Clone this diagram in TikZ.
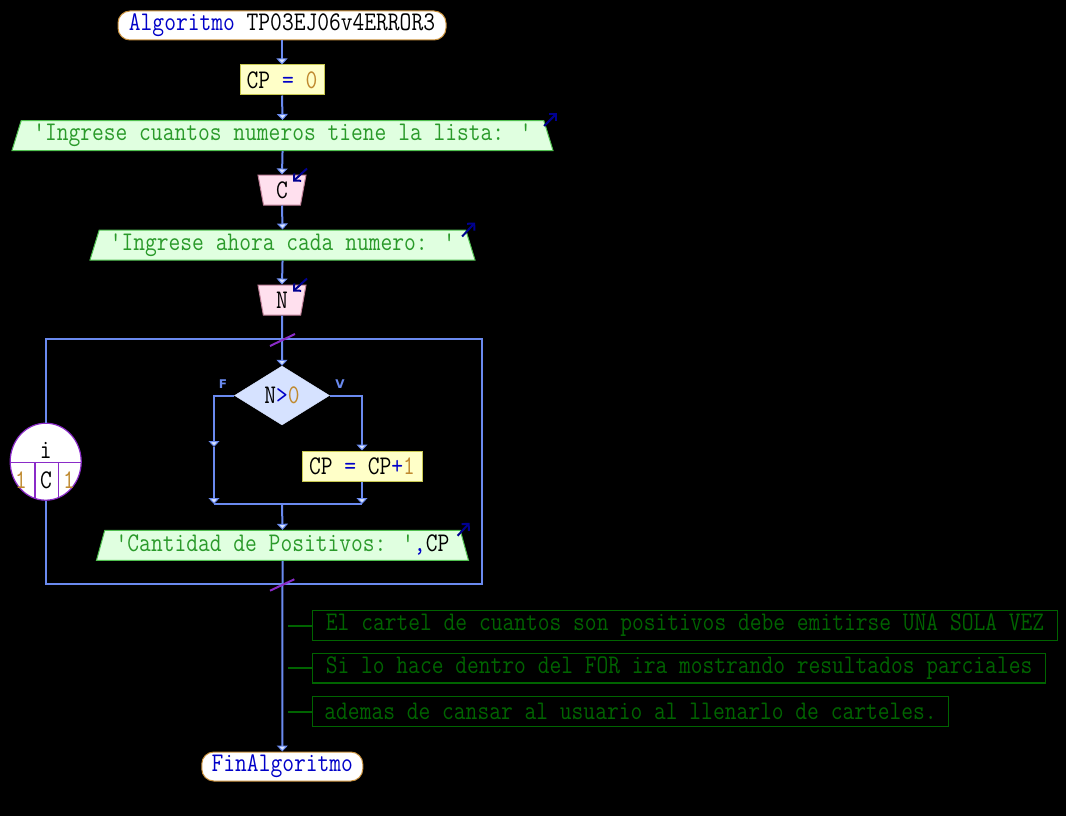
\documentclass[tikz,border=0pt]{standalone}
\usepackage{fontspec}
\newfontfamily\lf{DejaVu Sans}
\newfontfamily\cf[FakeStretch=0.85]{Latin Modern Mono}
\usetikzlibrary{shapes.geometric,arrows.meta}
\definecolor{ln}{HTML}{6A8AEF}
\definecolor{kw}{HTML}{0000C8}
\definecolor{num}{HTML}{C08A30}
\definecolor{strg}{HTML}{2A9A2A}
\definecolor{cmt}{HTML}{006400}
\definecolor{termb}{HTML}{C8903C}
\definecolor{asgf}{HTML}{FFFFC8}
\definecolor{asgb}{HTML}{C8C850}
\definecolor{outf}{HTML}{E0FFE0}
\definecolor{outb}{HTML}{50C050}
\definecolor{inf}{HTML}{FFE0EE}
\definecolor{inb}{HTML}{C08098}
\definecolor{dmf}{HTML}{D6E2FF}
\definecolor{loopc}{HTML}{8A2BC8}
\definecolor{ioarr}{HTML}{000090}
\definecolor{arrf}{HTML}{D8E4FF}
\tikzset{
  term/.style={draw=termb, fill=white, rounded corners=12pt, minimum height=29pt, inner sep=0pt, line width=1pt},
  asg/.style={draw=asgb, fill=asgf, minimum height=30pt, inner sep=0pt, line width=1pt},
  outp/.style={trapezium, trapezium left angle=68, trapezium right angle=68, trapezium stretches body, draw=outb, fill=outf, minimum height=30pt, inner sep=0pt, line width=1pt},
  inp/.style={trapezium, trapezium left angle=108, trapezium right angle=108, trapezium stretches body, draw=inb, fill=inf, minimum height=30pt, minimum width=48pt, inner sep=0pt, line width=1pt},
  dia/.style={diamond, draw=dmf, fill=dmf, minimum width=95pt, minimum height=59pt, inner sep=0pt},
  conn/.style={draw=ln, line width=2pt, -{Triangle[width=11pt,length=6pt,fill=arrf,line width=1pt]}},
  plain/.style={draw=ln, line width=2pt},
  ioar/.style={draw=ioarr, line width=2pt, -{Straight Barb[length=5pt,width=10pt]}},
  slash/.style={draw=loopc, line width=2pt},
  lbl/.style={text=ln, font=\lf\bfseries\fontsize{12}{13}\selectfont, inner sep=0pt},
  cmtbox/.style={draw=cmt, text=cmt, anchor=west, minimum height=29.5pt, inner xsep=4pt, inner ysep=0pt, line width=1.2pt},
  cmtline/.style={draw=cmt, line width=2pt},
}
\begin{document}
\begin{tikzpicture}[x=1pt,y=-1pt,font=\cf\fontsize{26.9}{30}\selectfont]
\useasboundingbox (0,0) rectangle (1066,816);
\fill[black] (0,0) rectangle (1066,816);
% nodes
\node[term, minimum width=328pt] (start) at (282,25.5) {{\color{kw}Algoritmo} TP03EJ06v4ERROR3};
\node[asg, minimum width=84pt] (a1) at (282,80) {CP {\color{kw}=} {\color{num}0}};
\node[outp, minimum width=541pt] (o1) at (282.5,135.5) {\color{strg}'Ingrese cuantos numeros tiene la lista: '};
\node[inp] (i1) at (282,190) {C};
\node[outp, minimum width=385pt] (o2) at (282.5,245) {\color{strg}'Ingrese ahora cada numero: '};
\node[inp] (i2) at (282,300) {N};
\node[dia] (d1) at (282,395.5) {N{\color{kw}>}{\color{num}0}};
\node[asg, minimum width=120pt] (a2) at (362,466) {CP {\color{kw}=} CP{\color{kw}+}{\color{num}1}};
\node[outp, minimum width=372pt] (o3) at (282.5,545.3) {{\color{strg}'Cantidad de Positivos: '}{\color{kw},}CP};
\node[term, minimum width=161pt] (end) at (282.3,766.5) {\color{kw}FinAlgoritmo};
% loop
\node[ellipse, draw=loopc, fill=white, line width=1.2pt, minimum width=71pt, minimum height=77pt, inner sep=0pt] (loop) at (45.7,461.7) {};
\begin{scope}
  \clip (loop.center) ellipse [x radius=35.5pt, y radius=38.3pt];
  \draw[loopc, line width=1.2pt] (8,462.3) -- (84,462.3);
  \draw[loopc, line width=1.2pt] (35,462.3) -- (35,502);
  \draw[loopc, line width=1.2pt] (58.3,462.3) -- (58.3,502);
\end{scope}
\node[inner sep=0pt] (li) at (45.7,450) {i};
\node[inner sep=0pt, text=num] (l1) at (21,480) {1};
\node[inner sep=0pt] (lc) at (46,480) {C};
\node[inner sep=0pt, text=num] (l2) at (69,480) {1};
\coordinate (lt) at (45.7,339.3);
\coordinate (rt) at (482.3,339.3);
\coordinate (rb) at (482.3,584.3);
\coordinate (lb) at (45.7,584.3);
\draw[plain] (loop.north) -- (lt) -- (rt) -- (rb) -- (lb) -- (loop.south);
% main connectors
\draw[conn] (start.south) -- (a1.north);
\draw[conn] (a1.south) -- (o1.north);
\draw[conn] (o1.south) -- (i1.north);
\draw[conn] (i1.south) -- (o2.north);
\draw[conn] (o2.south) -- (i2.north);
\draw[conn] (i2.south) -- (d1.north);
\coordinate (fl) at (214,395.5);
\coordinate (fm) at (214,447);
\coordinate (fb) at (214,504);
\coordinate (vr) at (362,395.5);
\coordinate (vb) at (362,504);
\coordinate (jm) at (282,504);
\draw[conn] (d1.west) -- (fl) -- (fm);
\draw[conn] (fm) -- (fb);
\draw[conn] (d1.east) -- (vr) -- (a2.north);
\draw[conn] (a2.south) -- (vb);
\draw[plain] (fb) -- (vb);
\draw[conn] (jm) -- (o3.north);
\draw[conn] (o3.south) -- (end.north);
% slash marks
\draw[slash] (270,346) -- (295,334);
\draw[slash] (270,590.7) -- (294.3,579.3);
% labels
\node[lbl] (lF) at (223,384) {F};
\node[lbl] (lV) at (340,384) {V};
% io marks
\draw[ioar] ([shift={(0,6)}]o1.top right corner) -- ([shift={(13,-7)}]o1.top right corner);
\draw[ioar] ([shift={(-4,7)}]o2.top right corner) -- ([shift={(9,-7)}]o2.top right corner);
\draw[ioar] ([shift={(-3,6)}]o3.top right corner) -- ([shift={(9,-7)}]o3.top right corner);
\draw[ioar] ([shift={(25,-6)}]i1.north) -- ([shift={(11,7)}]i1.north);
\draw[ioar] ([shift={(25,-6)}]i2.north) -- ([shift={(11,7)}]i2.north);
% comments
\node[cmtbox, minimum width=745pt] (c1) at (312,625.5) {El cartel de cuantos son positivos debe emitirse UNA SOLA VEZ};
\node[cmtbox, minimum width=733pt] (c2) at (312,668.3) {Si lo hace dentro del FOR ira mostrando resultados parciales};
\node[cmtbox, minimum width=636pt] (c3) at (312,711.5) {ademas de cansar al usuario al llenarlo de carteles.};
\coordinate (c1l) at (288,625.5);
\coordinate (c2l) at (288,668.3);
\coordinate (c3l) at (288,711.5);
\draw[cmtline] (c1l) -- (c1.west);
\draw[cmtline] (c2l) -- (c2.west);
\draw[cmtline] (c3l) -- (c3.west);
\end{tikzpicture}
\end{document}
